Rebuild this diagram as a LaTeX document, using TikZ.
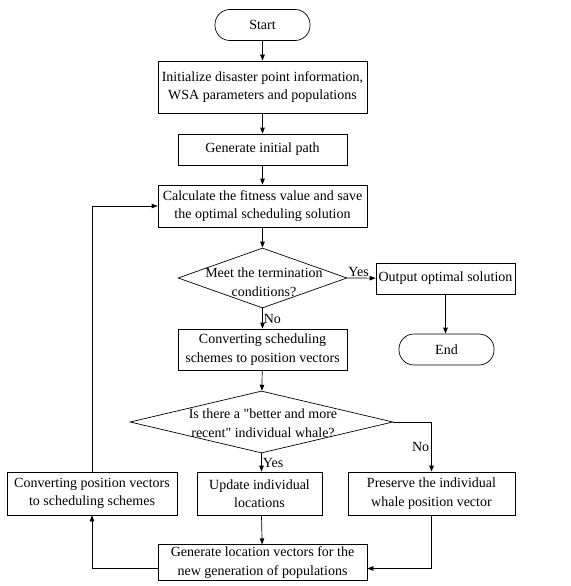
\documentclass[tikz,border=0pt]{standalone}
\usepackage{fontspec}
\setmainfont{Liberation Serif}
\usetikzlibrary{shapes.geometric,arrows.meta}
\newcommand\plainquote{\XeTeXglyph\XeTeXcharglyph"22\relax}

\begin{document}
\begin{tikzpicture}[
    x=1pt, y=-1pt,
    every node/.style={font=\fontsize{14}{18.5}\selectfont, align=center},
    box/.style={rectangle, draw=black, line width=0.7pt, inner sep=2pt},
    term/.style={rectangle, draw=black, line width=0.7pt, rounded corners=15pt, minimum width=95pt, minimum height=31pt},
    decision/.style={diamond, draw=black, line width=0.7pt, inner sep=0pt},
    arrow/.style={-{Triangle[length=6pt,width=4.5pt]}, line width=0.7pt}
]
\useasboundingbox (0,0) rectangle (570,586);

% Main column
\node[term] (start) at (262.5,25) {Start};
\node[box, minimum width=209pt, minimum height=52pt] (init) at (262.5,87) {Initialize disaster point information,\\WSA parameters and populations};
\node[box, minimum width=169pt, minimum height=31pt] (path) at (262.5,149.5) {Generate initial path};
\node[box, minimum width=209pt, minimum height=42pt] (calc) at (262.5,206) {Calculate the fitness value and save\\the optimal scheduling solution};
\node[decision, minimum width=169pt, minimum height=60pt] (stop) at (262.5,278) {};
\node (stoptext) at (264,282) {Meet the termination\\conditions?};

% Exit branch
\node[box, minimum width=139pt, minimum height=31pt] (output) at (445.5,278.5) {Output optimal solution};
\node[term] (end) at (446.5,349.5) {End};

% Whale update
\node[box, minimum width=169pt, minimum height=41pt] (toposition) at (262.5,349.5) {Converting scheduling\\schemes to position vectors};
\node[decision, minimum width=263pt, minimum height=62pt] (better) at (261.5,422) {};
\node (bettertext) at (263,423) {Is there a \plainquote better and more\\recent\plainquote\ individual whale?};
\node[box, minimum width=170pt, minimum height=43pt] (toscheme) at (92,493.5) {Converting position vectors\\to scheduling schemes};
\node[box, minimum width=125pt, minimum height=43pt] (update) at (259.5,493.5) {Update individual\\locations};
\node[box, minimum width=167pt, minimum height=43pt] (keep) at (431.5,493.5) {Preserve the individual\\whale position vector};
\node[box, minimum width=209pt, minimum height=33pt] (newgen) at (262.5,562.5) {Generate location vectors for the\\new generation of populations};

% Arrows
\draw[arrow] (start) -- (init);
\draw[arrow] (init) -- (path);
\draw[arrow] (path) -- (calc);
\draw[arrow] (calc) -- (stop);
\draw[arrow] (stop.east) -- node[above, pos=0.4, inner sep=1pt] {Yes} (output);
\draw[arrow] (output.south) -- (output.south |- end.north);
\draw[arrow] (stop.south) -- node[right, inner sep=1pt] {No} (toposition);
\draw[arrow] (toposition) -- (better);
\draw[arrow] (better.south) -- node[right, inner sep=1pt] {Yes} (better.south |- update.north);
\draw[arrow] (better.east) -| node[left, pos=0.75, inner sep=2pt] {No} (keep.north);
\draw[arrow] (update.south -| better.south) -- (newgen);
\draw[arrow] (keep.south) |- ([yshift=-6pt]newgen.east);
\draw[arrow] ([yshift=-6pt]newgen.west) -| (toscheme.south);
\draw[arrow] (toscheme.north) |- (calc.west);

\end{tikzpicture}
\end{document}
